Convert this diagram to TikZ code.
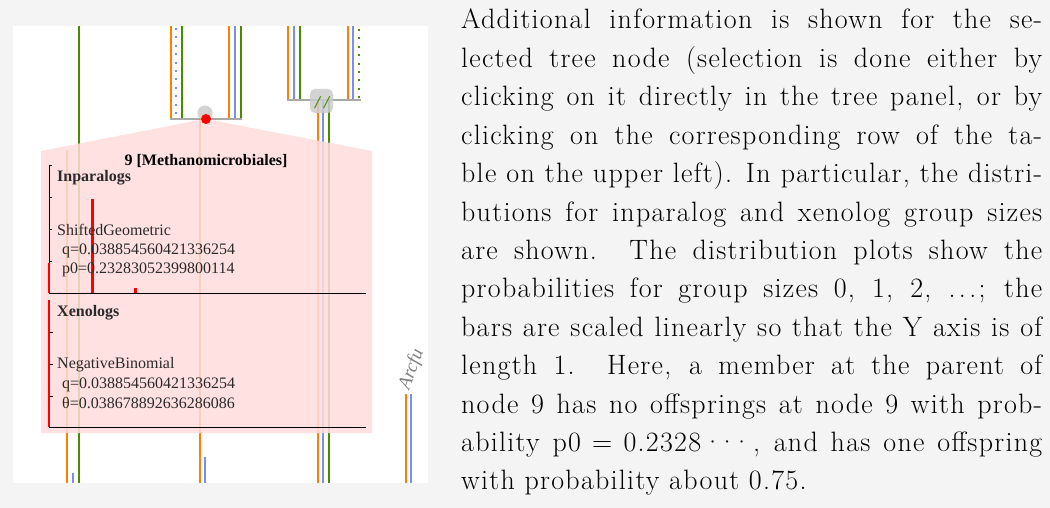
\documentclass[tikz,border=0pt]{standalone}
\usepackage{fontspec}
\newfontfamily\panelfont{Liberation Serif}
\newfontfamily\bodyfont[LetterSpace=4.5]{Latin Modern Roman}
\definecolor{bg}{HTML}{F4F4F4}
\definecolor{torange}{HTML}{FF8000}
\definecolor{tblue}{HTML}{7B8CF2}
\definecolor{tgreen}{HTML}{4A8C00}
\definecolor{tgray}{HTML}{A8A8A8}
\definecolor{pinkbox}{HTML}{FFDCDC}
\definecolor{ptxt}{HTML}{2A2A2A}
\begin{document}
\begin{tikzpicture}[x=1pt,y=-1pt,
  branch/.style={line width=2pt},
  dotline/.style={line width=2pt, dash pattern=on 2pt off 6.4pt},
  axisline/.style={line width=1pt, black},
  bar/.style={line width=3pt, red},
  ptext/.style={anchor=base west, inner sep=0pt, text=ptxt, font=\panelfont\fontsize{16}{16}\selectfont},
  phead/.style={anchor=base west, inner sep=0pt, text=ptxt, font=\panelfont\bfseries\fontsize{16}{16}\selectfont},
  mtext/.style={anchor=base west, inner sep=0pt, font=\bodyfont\fontsize{28}{28}\selectfont}]
\fill[bg] (0,0) rectangle (1050,508);
\useasboundingbox (0,0) rectangle (1050,508);
\fill[white] (13,26) rectangle (428,483);
% tree branches
\draw[branch,tgreen] (79,26) -- (79,483);
\draw[branch,torange] (67,150) -- (67,483);
\draw[branch,tblue] (73,473) -- (73,483);
\draw[branch,torange] (171,26) -- (171,119);
\draw[dotline,tblue] (176,28) -- (176,119);
\draw[branch,tgreen] (182,26) -- (182,119);
\draw[branch,torange] (229,26) -- (229,119);
\draw[branch,tblue] (235,26) -- (235,119);
\draw[branch,tgreen] (241,26) -- (241,119);
\draw[line width=2pt,tgray] (170,119) -- (242,119);
\draw[branch,torange] (200,119) -- (200,483);
\draw[branch,tblue] (205,457) -- (205,483);
\draw[branch,torange] (288,26) -- (288,100);
\draw[branch,tblue] (294,26) -- (294,100);
\draw[branch,tgreen] (300,26) -- (300,100);
\draw[branch,torange] (348,26) -- (348,100);
\draw[branch,tblue] (353,26) -- (353,100);
\draw[dotline,tgreen] (359,29) -- (359,100);
\draw[line width=2pt,tgray] (287,100) -- (361,100);
\draw[branch,torange] (318,100) -- (318,483);
\draw[branch,tblue] (323,100) -- (323,483);
\draw[branch,tgreen] (329,100) -- (329,483);
\draw[branch,torange] (406,394) -- (406,483);
\draw[branch,tblue] (411,394) -- (411,483);
\node[fill=gray!40, fill opacity=0.85, rounded corners=5pt, minimum width=23pt, minimum height=24pt, inner sep=0pt] (coll) at (321.5,101) {};
\node[text=tgreen, font=\panelfont\itshape\bfseries\fontsize{18}{18}\selectfont, inner sep=0pt] (collmark) at (322,103) {/\kern4pt/};
\fill[gray!40, opacity=0.85] (205,113) circle (7.5);
% selected node popup
\fill[pinkbox, fill opacity=0.85] (205,119) -- (372,151) -- (372,433) -- (41,433) -- (41,151) -- cycle;
\fill[red] (206,119) circle (5);
% inparalogs plot
\draw[axisline] (49,165) -- (49,293) -- (366,293);
\foreach \t in {165,197,229,261} \draw[line width=0.8pt] (49,\t) -- (52,\t);
\draw[line width=2pt, red] (49,263) -- (49,293);
\draw[bar] (92,199) -- (92,293);
\draw[bar] (135,288) -- (135,293);
% xenologs plot
\draw[axisline] (49,427) -- (366,427);
\draw[line width=2pt, red] (49,300) -- (49,427);
\foreach \t in {332,364,396} \draw[line width=0.8pt] (50,\t) -- (52.5,\t);
\node[anchor=base, inner sep=0pt, font=\panelfont\bfseries\fontsize{16}{16}\selectfont] (title) at (206,166) {9 [Methanomicrobiales]};
\node[phead] (inh) at (57,182) {Inparalogs};
\node[ptext] (ind) at (57,235) {ShiftedGeometric};
\node[ptext] (inq) at (62,254) {q=0.038854560421336254};
\node[ptext] (inp) at (62,273) {p0=0.23283052399800114};
\node[phead] (xeh) at (57,316) {Xenologs};
\node[ptext] (xed) at (57,368) {NegativeBinomial};
\node[ptext] (xeq) at (62,388) {q=0.038854560421336254};
\node[ptext] (xet) at (62,408) {θ=0.038678892636286086};
\node[anchor=base west, inner sep=0pt, rotate=70, text=gray, font=\panelfont\itshape\fontsize{19}{19}\selectfont] (arcfu) at (409,391) {Arcfu};
% explanatory text
\node[mtext] (l1) at (461,29) {\makebox[581pt][s]{Additional information is shown for the se-}};
\node[mtext] (l2) at (461,67.4) {\makebox[581pt][s]{lected tree node (selection is done either by}};
\node[mtext] (l3) at (461,105.8) {\makebox[581pt][s]{clicking on it directly in the tree panel, or by}};
\node[mtext] (l4) at (461,144.2) {\makebox[581pt][s]{clicking on the corresponding row of the ta-}};
\node[mtext] (l5) at (461,182.6) {\makebox[581pt][s]{ble on the upper left). In particular, the distri-}};
\node[mtext] (l6) at (461,221) {\makebox[581pt][s]{butions for inparalog and xenolog group sizes}};
\node[mtext] (l7) at (461,259.4) {\makebox[581pt][s]{are shown.\ \ The distribution plots show the}};
\node[mtext] (l8) at (461,297.8) {\makebox[581pt][s]{probabilities for group sizes 0, 1, 2, .\kern0.12em.\kern0.12em.\kern0.08em; the}};
\node[mtext] (l9) at (461,336.2) {\makebox[581pt][s]{bars are scaled linearly so that the Y axis is of}};
\node[mtext] (l10) at (461,374.6) {\makebox[581pt][s]{length 1.\ \ Here, a member at the parent of}};
\node[mtext] (l11) at (461,413) {\makebox[581pt][s]{node 9 has no offsprings at node 9 with prob-}};
\node[mtext] (l12) at (461,451.4) {\makebox[581pt][s]{ability p0\kern0.4em=\kern0.4em0.2328\kern0.05em·\kern-0.2em·\kern-0.2em·, and has one offspring}};
\node[mtext] (l13) at (461,489.8) {with probability about 0.75.};
\end{tikzpicture}
\end{document}
